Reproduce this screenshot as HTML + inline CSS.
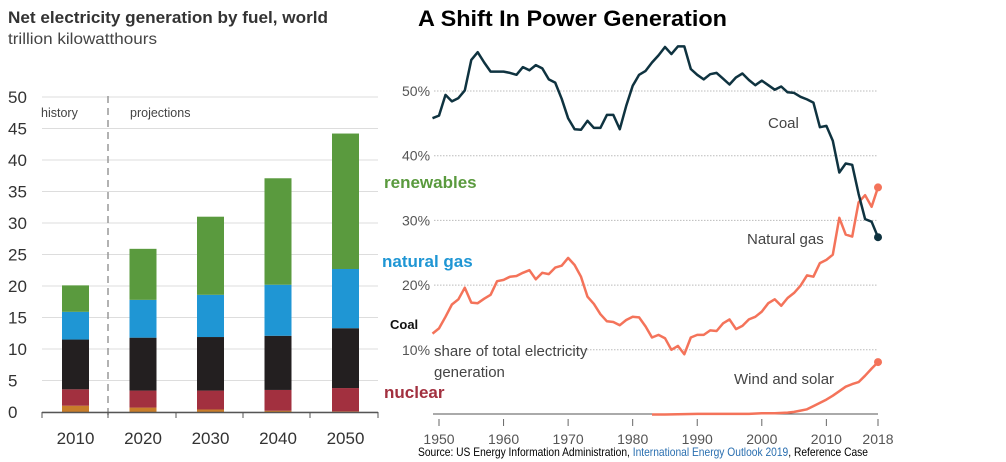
<!DOCTYPE html>
<html><head><meta charset="utf-8">
<style>
body{margin:0;width:1006px;height:462px;background:#fff;overflow:hidden;font-family:"Liberation Sans",sans-serif;}
svg{display:block}
</style></head>
<body>
<svg id="s" width="1006" height="462" viewBox="0 0 1006 462" xmlns="http://www.w3.org/2000/svg">
<text x="8" y="23" font-size="17" font-weight="bold" fill="#333" textLength="320" lengthAdjust="spacingAndGlyphs">Net electricity generation by fuel, world</text>
<text x="8" y="44" font-size="16" fill="#444" textLength="149" lengthAdjust="spacingAndGlyphs">trillion kilowatthours</text>
<text x="418" y="26" font-size="22" font-weight="bold" fill="#000" textLength="309" lengthAdjust="spacingAndGlyphs">A Shift In Power Generation</text>
<g id="left"></g>
<g id="right"></g>
<text x="384" y="188" font-size="17" font-weight="bold" fill="#5a9a3e">renewables</text>
<text x="382" y="267" font-size="17" font-weight="bold" fill="#1f96d4">natural gas</text>
<text x="390" y="329" font-size="13" font-weight="bold" fill="#111">Coal</text>
<text x="384" y="398" font-size="17" font-weight="bold" fill="#a2303f">nuclear</text>
<text x="418" y="456" font-size="12" fill="#000" textLength="450" lengthAdjust="spacingAndGlyphs">Source: US Energy Information Administration, <tspan fill="#2a6fb0">International Energy Outlook 2019</tspan>, Reference Case</text>
</svg>
<script>
const NS="http://www.w3.org/2000/svg";
// ---- left bar chart data ----
const barYears=["2010","2020","2030","2040","2050"];
const otherVals=[1.0,0.7,0.4,0.2,0.1];
const nuclearVals=[2.6,2.7,3.0,3.3,3.7];
const coalVals=[7.9,8.4,8.5,8.6,9.5];
const gasVals=[4.4,6.0,6.7,8.1,9.4];
const renewVals=[4.2,8.1,12.4,16.9,21.5];
const leftTicks=[0,5,10,15,20,25,30,35,40,45,50];
// ---- right line chart data ----
const lineYears=[];for(let y=1949;y<=2018;y++)lineYears.push(y);
const coalShare=[45.8,46.2,49.4,48.4,48.9,50.1,54.8,56,54.4,53,53,53,52.8,52.5,53.7,53.2,54,53.5,51.8,51.3,48.8,45.8,44.1,44,45.4,44.3,44.3,46.3,46.3,44.1,47.7,50.8,52.5,53.1,54.4,55.5,56.8,55.7,56.9,56.9,53.4,52.5,51.8,52.6,52.8,51.9,51,52.1,52.7,51.7,50.9,51.6,50.9,50.2,50.7,49.8,49.7,49.1,48.7,48.2,44.4,44.6,42.3,37.4,38.8,38.6,34.1,30.2,29.8,27.4];
const gasShare=[12.5,13.3,15.1,17,17.8,19.6,17.3,17.2,17.9,18.5,20.6,20.8,21.3,21.4,21.9,22.3,20.9,21.9,21.7,22.7,23,24.2,23.1,21.3,18.2,17.1,15.5,14.4,14.3,13.8,14.6,15.1,15,13.6,11.9,12.3,11.8,10,10.6,9.3,11.9,12.3,12.3,13,12.9,14.1,14.7,13.2,13.7,14.7,15.1,15.9,17.2,17.8,16.8,18,18.8,19.9,21.5,21.3,23.4,23.9,24.7,30.4,27.8,27.5,32.8,33.9,32.1,35.1];
const windYears=[1983,1985,1990,1995,1998,2000,2002,2004,2005,2006,2007,2008,2009,2010,2011,2012,2013,2014,2015,2016,2017,2018];
const windShare=[0,0,0.1,0.1,0.1,0.2,0.2,0.3,0.4,0.6,0.8,1.3,1.8,2.3,2.9,3.6,4.3,4.7,5.0,6.0,7.1,8.1];
const rightTicks=[10,20,30,40,50];
const xTickYears=[1950,1960,1970,1980,1990,2000,2010,2018];

function mk(tag,attrs,parent,txt){const e=document.createElementNS(NS,tag);for(const k in attrs)e.setAttribute(k,attrs[k]);if(txt!==undefined)e.textContent=txt;parent.appendChild(e);return e;}

// left chart
const L=document.getElementById('left');
const ly=v=>412-v*6.3;
const bx=i=>62+i*67.5;
const BW=27;
leftTicks.forEach(t=>{
  const g=mk('line',{x1:42,x2:378,y1:ly(t),y2:ly(t),stroke:'#ddd','stroke-width':1},L);
  
  
  const tx=mk('text',{x:8,y:ly(t)+6,'font-size':17,fill:'#333'},L,String(t));
  
  
});
const dl=mk('line',{x1:108,x2:108,y1:96,y2:415,stroke:'#999','stroke-width':1.5,'stroke-dasharray':'7,5'},L);


let t1=mk('text',{x:41,y:117,'font-size':12.5,fill:'#444'},L,'history');


let t2=mk('text',{x:130,y:117,'font-size':12.5,fill:'#444'},L,'projections');


const series=[[otherVals,'#c87d2a','other'],[nuclearVals,'#a2303f','nuclear'],[coalVals,'#231f20','coal'],[gasVals,'#1f96d4','gas'],[renewVals,'#5a9a3e','renewables']];
barYears.forEach((yr,i)=>{
  let base=0;
  series.forEach(([vals,col,nm])=>{
    const v=vals[i];
    const r=mk('rect',{x:bx(i),y:ly(base+v),width:BW,height:v*6.3,fill:col},L);
    
    
    base+=v;
  });
  const lab=mk('text',{x:bx(i)+BW/2,y:444,'font-size':17,fill:'#333','text-anchor':'middle'},L,yr);
  
  
});
const ax=mk('line',{x1:42,x2:378,y1:412.5,y2:412.5,stroke:'#555','stroke-width':1.5},L);


[42,108,176,243,310,378].forEach(x=>{
  const tk=mk('line',{x1:x,x2:x,y1:412,y2:418,stroke:'#555'},L);
  
  
});

// right chart
const R=document.getElementById('right');
const rx=y=>439+(y-1950)*6.456;
const ry=v=>414.5-v*6.47;
rightTicks.forEach(t=>{
  const g=mk('line',{x1:t===10?566:434,x2:878,y1:ry(t),y2:ry(t),stroke:'#bbb','stroke-width':1,'stroke-dasharray':'1.5,1.5'},R);
  
  
  const tx=mk('text',{x:402,y:ry(t)+5,'font-size':14,fill:'#555'},R,t+'%');
  
  
});
const rax=mk('line',{x1:433,x2:878,y1:414,y2:414,stroke:'#555','stroke-width':1},R);


xTickYears.forEach(y=>{
  const tk=mk('line',{x1:rx(y),x2:rx(y),y1:419,y2:426,stroke:'#666'},R);
  
  
  const tx=mk('text',{x:rx(y),y:444,'font-size':14,fill:'#555','text-anchor':'middle'},R,String(y));
  
  
});
function path(xs,vs){return xs.map((x,i)=>(i?'L':'M')+rx(x).toFixed(1)+','+ry(vs[i]).toFixed(1)).join('');}
const gp=mk('path',{d:path(lineYears,gasShare),fill:'none',stroke:'#f4735a','stroke-width':2.5,'stroke-linejoin':'round'},R);


const wp=mk('path',{d:path(windYears,windShare),fill:'none',stroke:'#f4735a','stroke-width':2.5,'stroke-linejoin':'round'},R);


const cp=mk('path',{d:path(lineYears,coalShare),fill:'none',stroke:'#0f3340','stroke-width':2.5,'stroke-linejoin':'round'},R);


const d1=mk('circle',{cx:rx(2018),cy:ry(gasShare[gasShare.length-1]),r:4,fill:'#f4735a'},R);


const d2=mk('circle',{cx:rx(2018),cy:ry(windShare[windShare.length-1]),r:4,fill:'#f4735a'},R);


const d3=mk('circle',{cx:rx(2018),cy:ry(coalShare[coalShare.length-1]),r:4,fill:'#0f3340'},R);


[['Coal',768,128,'coal-series-label'],['Natural gas',747,244,'natural-gas-series-label'],['Wind and solar',734,384,'wind-solar-series-label'],['share of total electricity',434,356,'axis-note'],['generation',434,377,'axis-note-line2']].forEach(([s,x,y,n])=>{
  const tx=mk('text',{x:x,y:y,'font-size':15,fill:'#444'},R,s);
  
  
});
</script>
</body></html>
